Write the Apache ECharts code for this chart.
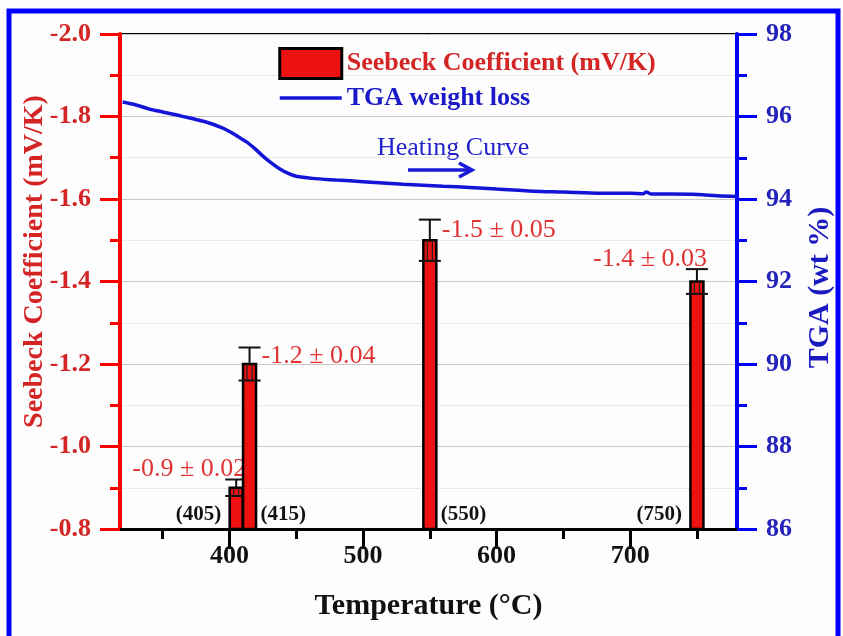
<!DOCTYPE html>
<html><head><meta charset="utf-8">
<script src="https://cdn.jsdelivr.net/npm/echarts@6/dist/echarts.min.js"></script>
<style>html,body{margin:0;padding:0;background:#fff}#c{width:843px;height:636px}</style>
</head><body><div id="c"></div>
<script>
// ---- data ----
const temps = [405, 415, 550, 750];
const seebeck = [-0.9, -1.2, -1.5, -1.4];
const seebeckErr = [0.02, 0.04, 0.05, 0.03];
const valueLabels = ['-0.9 \u00b1 0.02', '-1.2 \u00b1 0.04', '-1.5 \u00b1 0.05', '-1.4 \u00b1 0.03'];
const tempLabels = ['(405)', '(415)', '(550)', '(750)'];
const tgaTemp = [320, 330, 340, 350, 364, 383, 395, 401, 407, 413, 419, 425, 431, 438, 444, 450, 462, 480, 500, 530, 560, 580, 600, 628, 650, 678, 700, 710, 712, 716, 730, 751, 765, 780];
const tgaWt   = [96.35, 96.28, 96.18, 96.11, 96.01, 95.86, 95.72, 95.62, 95.50, 95.38, 95.22, 95.04, 94.88, 94.72, 94.62, 94.55, 94.50, 94.46, 94.42, 94.36, 94.31, 94.28, 94.24, 94.19, 94.17, 94.14, 94.14, 94.13, 94.17, 94.12, 94.12, 94.11, 94.08, 94.06];
const xMajorTicks = [400, 500, 600, 700];
const xMinorTicks = [350, 450, 550, 650, 750];
const seriesNames = ['Seebeck Coefficient (mV/K)', 'TGA weight loss'];

// ---- style (not data) ----
const valueLabelSide = ['left', 'right', 'right', 'left'];
const tempLabelSide = ['left', 'right', 'right', 'left'];
const FONT = '"Liberation Serif", "Times New Roman", serif';
const RED = '#ff0000', RED_TXT = '#d42424', BAR_RED = '#ee1111';
const BLUE = '#0000ff', BLUE_TXT = '#2323bb', LINE_BLUE = '#1414d8';

const chart = echarts.init(document.getElementById('c'), null, {renderer: 'canvas'});

const barData = temps.map((t, i) => [t, seebeck[i], seebeckErr[i]]);
const tgaData = tgaTemp.map((t, i) => [t, tgaWt[i]]);

function renderBar(params, api) {
  const i = params.dataIndex;
  const T = api.value(0), v = api.value(1), e = api.value(2);
  const top = api.coord([T, v]);
  const base = api.coord([T, -0.8]);
  const capHi = api.coord([T, v - e]);
  const capLo = api.coord([T, v + e]);
  const x = top[0];
  const bw = 13, cw = 11;
  const children = [
    {type: 'rect', shape: {x: x - bw / 2, y: top[1], width: bw, height: base[1] - top[1]},
     style: {fill: BAR_RED, stroke: '#000', lineWidth: 2.5}},
    {type: 'line', shape: {x1: x, y1: capHi[1], x2: x, y2: top[1]}, style: {stroke: '#111', lineWidth: 2}},
    {type: 'line', shape: {x1: x - 2.5, y1: top[1], x2: x - 2.5, y2: capLo[1]}, style: {stroke: '#222', lineWidth: 1.2}},
    {type: 'line', shape: {x1: x + 2.5, y1: top[1], x2: x + 2.5, y2: capLo[1]}, style: {stroke: '#222', lineWidth: 1.2}},
    {type: 'line', shape: {x1: x - cw, y1: capHi[1], x2: x + cw, y2: capHi[1]}, style: {stroke: '#111', lineWidth: 2}},
    {type: 'line', shape: {x1: x - cw, y1: capLo[1], x2: x + cw, y2: capLo[1]}, style: {stroke: '#111', lineWidth: 2}}
  ];
  const vs = valueLabelSide[i];
  children.push({
    type: 'text',
    x: vs === 'right' ? x + 12 : x + 10,
    y: vs === 'right' ? (capHi[1] + top[1]) / 2 : capHi[1] - 10,
    style: {text: valueLabels[i], fill: '#e03232', fontFamily: FONT, fontSize: 26,
            align: vs === 'right' ? 'left' : 'right', verticalAlign: 'middle'}
  });
  const ts = tempLabelSide[i];
  children.push({
    type: 'text',
    x: ts === 'right' ? x + 11 : x - 15,
    y: base[1] - 14,
    style: {text: tempLabels[i], fill: '#111', fontFamily: FONT, fontSize: 21, fontWeight: 'bold',
            align: ts === 'right' ? 'left' : 'right', verticalAlign: 'middle'}
  });
  return {type: 'group', children};
}

const option = {
  backgroundColor: '#fdfdfd',
  animation: false,
  grid: {left: 120, right: 98, top: 34, bottom: 107, show: true, borderColor: '#000', borderWidth: 2, backgroundColor: 'transparent'},
  legend: {
    orient: 'vertical', left: 278, top: 47, padding: 0, itemWidth: 62, itemHeight: 30, itemGap: 5,
    textStyle: {fontFamily: FONT, fontWeight: 'bold', fontSize: 26},
    data: [
      {name: seriesNames[0], icon: 'rect', itemStyle: {color: BAR_RED, borderColor: '#000', borderWidth: 3}, textStyle: {color: RED_TXT}},
      {name: seriesNames[1], itemStyle: {opacity: 0}, lineStyle: {width: 3.5, color: LINE_BLUE}, textStyle: {color: '#1a1ac8'}}
    ]
  },
  xAxis: [
    {
      type: 'value', min: 318, max: 780, position: 'bottom',
      name: 'Temperature (\u00b0C)', nameLocation: 'middle', nameGap: 62,
      nameTextStyle: {fontFamily: FONT, fontWeight: 'bold', fontSize: 30, color: '#111'},
      axisLine: {lineStyle: {color: '#000', width: 3}},
      axisTick: {inside: false, length: 20, lineStyle: {color: '#000', width: 3}, customValues: xMajorTicks},
      axisLabel: {customValues: xMajorTicks, fontFamily: FONT, fontWeight: 'bold', fontSize: 26, color: '#111', margin: 14},
      splitLine: {show: false}
    },
    {
      type: 'value', min: 318, max: 780, position: 'bottom',
      axisLine: {show: false},
      axisTick: {inside: false, length: 10, lineStyle: {color: '#000', width: 3}, customValues: xMinorTicks},
      axisLabel: {show: false},
      splitLine: {show: false}
    }
  ],
  yAxis: [
    {
      type: 'value', min: -2.0, max: -0.8, interval: 0.2, inverse: true, position: 'left',
      name: 'Seebeck Coefficient (mV/K)', nameLocation: 'middle', nameGap: 71, nameRotate: 90, nameMoveOverlap: false,
      nameTextStyle: {fontFamily: FONT, fontWeight: 'bold', fontSize: 28, color: RED_TXT, padding: [0, 0, 0, 40]},
      axisLine: {lineStyle: {color: RED, width: 4}},
      axisTick: {inside: false, length: 20, lineStyle: {color: RED, width: 3}},
      minorTick: {show: true, splitNumber: 2, length: 10, lineStyle: {color: RED, width: 3}},
      axisLabel: {formatter: v => v.toFixed(1), fontFamily: FONT, fontWeight: 'bold', fontSize: 26, color: RED_TXT, margin: 29},
      splitLine: {show: true, lineStyle: {color: '#c8c8c8', width: 1}},
      minorSplitLine: {show: true, lineStyle: {color: '#d4d4d4', width: 1, type: 'dotted'}}
    },
    {
      type: 'value', min: 86, max: 98, interval: 2, position: 'right',
      name: 'TGA (wt %)', nameLocation: 'middle', nameGap: 68, nameRotate: 90, nameMoveOverlap: false,
      nameTextStyle: {fontFamily: FONT, fontWeight: 'bold', fontSize: 30, color: '#1a1ac0', padding: [0, 12, 0, 0]},
      axisLine: {lineStyle: {color: BLUE, width: 4}},
      axisTick: {inside: false, length: 20, lineStyle: {color: BLUE, width: 3}},
      minorTick: {show: true, splitNumber: 2, length: 10, lineStyle: {color: BLUE, width: 3}},
      axisLabel: {fontFamily: FONT, fontWeight: 'bold', fontSize: 26, color: BLUE_TXT, margin: 29},
      splitLine: {show: false}
    }
  ],
  graphic: [
    {type: 'rect', shape: {x: 9, y: 11, width: 829, height: 660}, style: {fill: 'none', stroke: '#0000ff', lineWidth: 5}, silent: true},
    {type: 'text', x: 377, y: 148, style: {text: 'Heating Curve', fill: '#2222cc', fontFamily: FONT, fontSize: 26, verticalAlign: 'middle'}},
    {type: 'line', shape: {x1: 408, y1: 170, x2: 469, y2: 170}, style: {stroke: '#1a1ad8', lineWidth: 3.5}},
    {type: 'polyline', shape: {points: [[459, 163], [472, 170], [459, 177]]}, style: {stroke: '#1a1ad8', lineWidth: 3.5, fill: 'none'}}
  ],
  series: [
    {
      name: seriesNames[0], type: 'custom', coordinateSystem: 'cartesian2d', xAxisIndex: 0, yAxisIndex: 0,
      itemStyle: {color: BAR_RED}, renderItem: renderBar, data: barData, z: 3
    },
    {
      name: seriesNames[1], type: 'line', xAxisIndex: 0, yAxisIndex: 1, data: tgaData,
      symbol: 'none', smooth: 0.3, lineStyle: {color: LINE_BLUE, width: 3.5}, itemStyle: {color: LINE_BLUE}, z: 4
    }
  ]
};
chart.setOption(option);
</script>
</body></html>
